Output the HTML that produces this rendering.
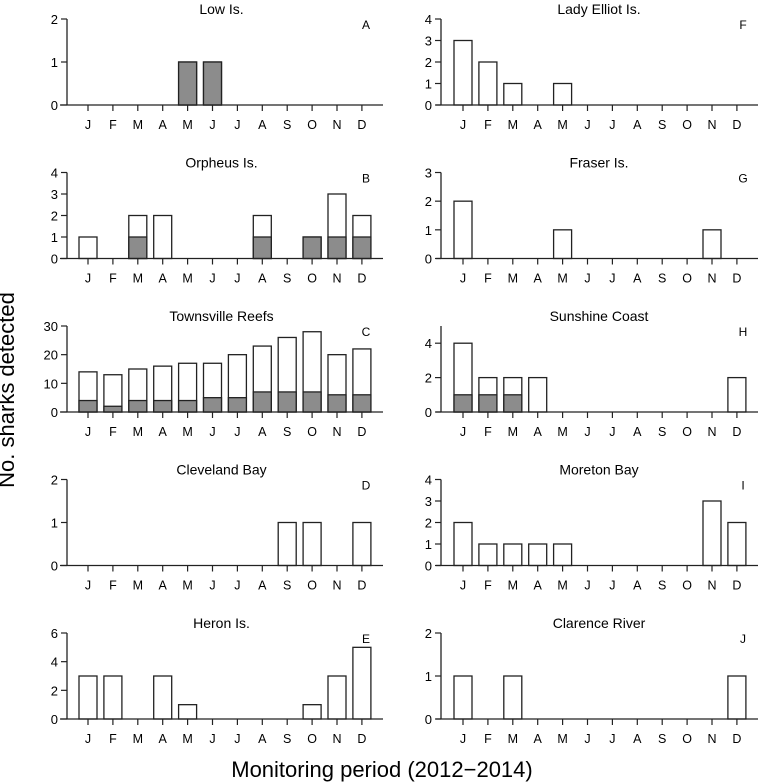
<!DOCTYPE html>
<html><head><meta charset="utf-8"><style>
body{margin:0;background:#fff}
svg{display:block;font-family:"Liberation Sans",Arial,sans-serif}
</style></head><body>
<svg id="c" width="760" height="784" viewBox="0 0 760 784" xmlns="http://www.w3.org/2000/svg">
<text x="14" y="390" font-size="22" text-anchor="middle" transform="rotate(-90 14 390)">No. sharks detected</text>
<text x="382" y="777" font-size="22" text-anchor="middle">Monitoring period (2012−2014)</text>
</svg>
<script>
const months = ["J","F","M","A","M","J","J","A","S","O","N","D"];
const panelTitles = ["Low Is.","Orpheus Is.","Townsville Reefs","Cleveland Bay","Heron Is.","Lady Elliot Is.","Fraser Is.","Sunshine Coast","Moreton Bay","Clarence River"];
const panelLetters = ["A","B","C","D","E","F","G","H","I","J"];
const yMax = [2,4,30,2,6,4,3,5,4,2];
const yTicks = [[0,1,2],[0,1,2,3,4],[0,10,20,30],[0,1,2],[0,2,4,6],[0,1,2,3,4],[0,1,2,3],[0,2,4],[0,1,2,3,4],[0,1,2]];
const totalLow = [0,0,0,0,1,1,0,0,0,0,0,0];
const greyLow = [0,0,0,0,1,1,0,0,0,0,0,0];
const totalOrpheus = [1,0,2,2,0,0,0,2,0,1,3,2];
const greyOrpheus = [0,0,1,0,0,0,0,1,0,1,1,1];
const totalTownsville = [14,13,15,16,17,17,20,23,26,28,20,22];
const greyTownsville = [4,2,4,4,4,5,5,7,7,7,6,6];
const totalCleveland = [0,0,0,0,0,0,0,0,1,1,0,1];
const totalHeron = [3,3,0,3,1,0,0,0,0,1,3,5];
const totalLadyElliot = [3,2,1,0,1,0,0,0,0,0,0,0];
const totalFraser = [2,0,0,0,1,0,0,0,0,0,1,0];
const totalSunshine = [4,2,2,2,0,0,0,0,0,0,0,2];
const greySunshine = [1,1,1,0,0,0,0,0,0,0,0,0];
const totalMoreton = [2,1,1,1,1,0,0,0,0,0,3,2];
const totalClarence = [1,0,1,0,0,0,0,0,0,0,0,1];
const zeros = [0,0,0,0,0,0,0,0,0,0,0,0];
const totals = [totalLow,totalOrpheus,totalTownsville,totalCleveland,totalHeron,totalLadyElliot,totalFraser,totalSunshine,totalMoreton,totalClarence];
const greys = [greyLow,greyOrpheus,greyTownsville,zeros,zeros,zeros,zeros,greySunshine,zeros,zeros];

const NS="http://www.w3.org/2000/svg";
const svg=document.getElementById('c');
function mk(tag,attrs,parent){const e=document.createElementNS(NS,tag);for(const k in attrs)e.setAttribute(k,attrs[k]);(parent||svg).appendChild(e);return e;}

for(let p=0;p<10;p++){
  const col=p<5?0:1,row=p%5;
  const axX=col?441:67, j0=col?463:88, step=24.9;
  const base=105+row*153.5, top=base-86;
  const lineL=col?436:60, lineR=col?758:383;
  const yScale=v=>base-(v/yMax[p])*86;
  const xScale=i=>j0+i*step;
  const g=mk('g',{});
  
  
  const t=mk('text',{x:(lineL+lineR)/2+(col?2:0),y:top-5,'font-size':14,'text-anchor':'middle'},g);
  t.textContent=panelTitles[p];
  
  
  const l=mk('text',{x:col?743:366,y:top+10,'font-size':12,'text-anchor':'middle'},g);
  l.textContent=panelLetters[p];
  
  
  // bars
  for(let i=0;i<12;i++){
    const tv=totals[p][i], gv=greys[p][i];
    if(tv>0){
      const b=mk('rect',{x:xScale(i)-9,y:yScale(tv),width:18,height:base-yScale(tv),fill:'#fff',stroke:'#222','stroke-width':1.3},g);
      
      
    }
    if(gv>0){
      const b2=mk('rect',{x:xScale(i)-9,y:yScale(gv),width:18,height:base-yScale(gv),fill:'#8c8c8c',stroke:'#222','stroke-width':1.3},g);
      
      
    }
    mk('line',{x1:xScale(i),x2:xScale(i),y1:base,y2:base+6,stroke:'#222','stroke-width':1.2},g);
    const ml=mk('text',{x:xScale(i),y:base+24,'font-size':12.5,'text-anchor':'middle'},g);
    ml.textContent=months[i];
    
    
  }
  mk('line',{x1:lineL,x2:lineR,y1:base,y2:base,stroke:'#222','stroke-width':1.3},g);
  mk('line',{x1:axX,x2:axX,y1:top,y2:base,stroke:'#222','stroke-width':1.3},g);
  yTicks[p].forEach(v=>{
    mk('line',{x1:axX-6,x2:axX,y1:yScale(v),y2:yScale(v),stroke:'#222','stroke-width':1.2},g);
    const yl=mk('text',{x:axX-9,y:yScale(v)+5,'font-size':13,'text-anchor':'end'},g);
    yl.textContent=v;
    
    
  });
}
</script>
</body></html>
